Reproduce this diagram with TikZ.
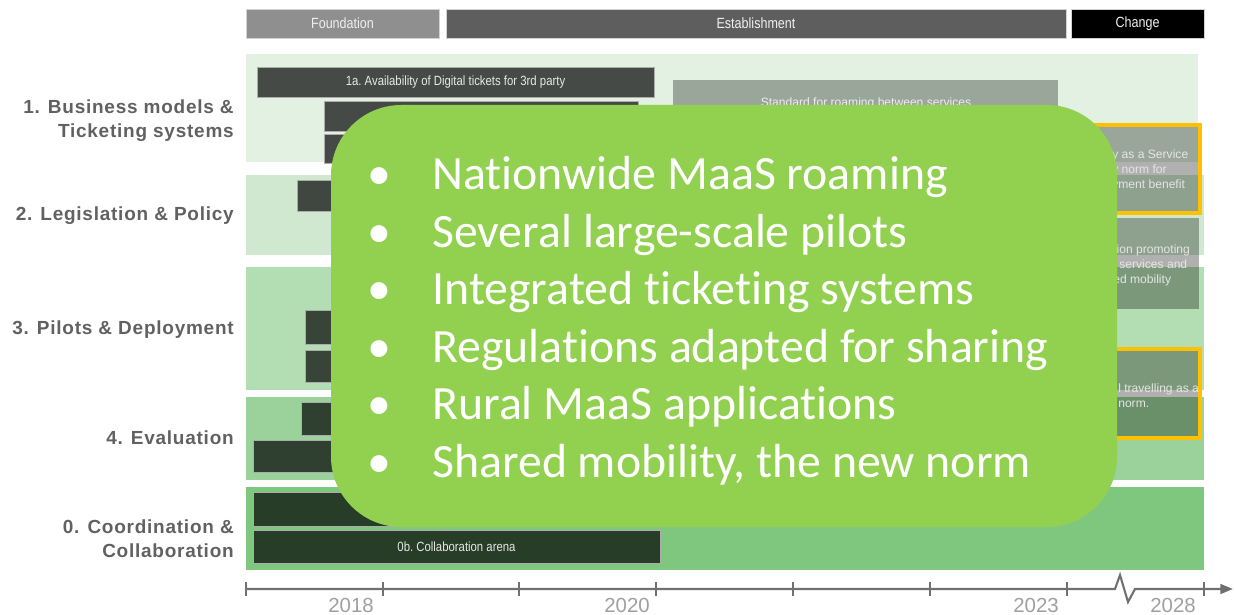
\documentclass[tikz,border=0pt]{standalone}
\usepackage{fontspec}
\setmainfont{Liberation Sans}
\newfontfamily\slidefont[Ligatures=NoCommon]{Carlito}
\newfontfamily\narrowfont[FakeStretch=0.85]{Liberation Sans}
\newfontfamily\labelfont[LetterSpace=4]{Liberation Sans}
\usepackage{tikz}
\usetikzlibrary{fit,arrows.meta}

\definecolor{bandone}{RGB}{226,241,226}
\definecolor{bandtwo}{RGB}{207,232,207}
\definecolor{bandthree}{RGB}{179,221,179}
\definecolor{bandfour}{RGB}{155,209,155}
\definecolor{bandzero}{RGB}{127,199,127}
\definecolor{slidegreen}{RGB}{146,208,80}
\definecolor{changeorange}{RGB}{255,192,0}
\definecolor{axisgray}{RGB}{112,112,112}

\tikzset{
  phase/.style={fill=#1, draw=gray!35, inner sep=0pt},
  phasetext/.style={text=gray!12, inner sep=0pt,
    font=\narrowfont\fontsize{10.5}{12}\selectfont},
  task/.style={fill=black, fill opacity=0.69, draw=gray!65,
    line width=0.5pt, inner sep=0pt},
  tasktext/.style={text=gray!18, inner sep=0pt,
    font=\narrowfont\fontsize{9.5}{11}\selectfont},
  target/.style={fill=black, fill opacity=0.31, draw=none, inner sep=0pt},
  boxtext/.style={anchor=north west, align=left, text=gray!20, inner sep=0pt,
    font=\fontsize{8.6}{10.8}\selectfont},
  rowlabel/.style={anchor=east, align=right, text=black!62, inner sep=0pt,
    font=\labelfont\bfseries\fontsize{13.5}{17}\selectfont},
  year/.style={anchor=east, text=gray!75, inner sep=0pt,
    font=\fontsize{14.5}{16}\selectfont},
  axis/.style={axisgray, line width=1.5pt},
  bullet/.style={anchor=base, text=white, inner sep=0pt,
    font=\slidefont\fontsize{34}{40}\selectfont},
  point/.style={anchor=base west, text=white, inner sep=0pt,
    font=\slidefont\fontsize{34}{40}\selectfont}
}

\begin{document}
\begin{tikzpicture}[x=0.025cm,y=-0.025cm]
\useasboundingbox (0,0) rectangle (1234,615);

% phases
\node[phase=black!44, fit={(246,9) (439,38)}] (foundation) {};
\node[phase=black!63, fit={(446,9) (1066,38)}] (establishment) {};
\node[phase=black, fit={(1071,9) (1204,38)}] (change) {};
\node[phasetext] at (foundation) {Foundation};
\node[phasetext] at (establishment) {Establishment};
\node[phasetext] at (change) {Change};

% rows
\fill[bandone] (246,54) rectangle (1198,162);
\fill[bandtwo] (246,175) rectangle (1204,255);
\fill[bandthree] (246,267) rectangle (1204,390);
\fill[bandfour] (246,397) rectangle (1204,480);
\fill[bandzero] (246,487) rectangle (1204,570);

\node[rowlabel] (lab1) at (234,121) {1. Business models \&\\Ticketing systems};
\node[rowlabel] (lab2) at (234,216) {2. Legislation \& Policy};
\node[rowlabel] (lab3) at (234,330) {3. Pilots \& Deployment};
\node[rowlabel] (lab4) at (234,438) {4. Evaluation};
\node[rowlabel] (lab0) at (234,539) {0. Coordination \&\\Collaboration};

% tasks
\node[task, fit={(257,67) (654,97)}] (task1a) {};
\node[task, fit={(324,101) (638,131)}] (task1b) {};
\node[task, fit={(324,134) (638,163)}] (task1c) {};
\node[task, fit={(297,180) (620,211)}] (task2a) {};
\node[task, fit={(305,310) (640,344)}] (task3a) {};
\node[task, fit={(305,350) (640,382)}] (task3b) {};
\node[task, fit={(301,402) (620,435)}] (task4a) {};
\node[task, fit={(253,440) (640,472)}] (task4b) {};
\node[task, fit={(253,492) (660,526)}] (task0a) {};
\node[task, fit={(253,530) (660,563)}] (task0b) {};
\node[tasktext] at (task1a) {1a.\ Availability of Digital tickets for 3rd party};
\node[tasktext] at (task0b) {0b.\ Collaboration arena};

% targets
\node[target, fit={(673,80) (1058,160)}] (roaming) {};
\node[text=gray!15, font=\fontsize{8.6}{10}\selectfont] (roamingtext) at (866,103) {Standard for roaming between services};
\node[target, draw=changeorange, line width=2.2pt, fit={(1040,125) (1200,213)}] (benefit) {};
\node[boxtext] (benefittext) at (1112,149) {y as a Service\\v norm for\\yment benefit};
\node[target, fit={(1040,218) (1199,309)}] (legislation) {};
\node[boxtext] (legislationtext) at (1113,244) {tion promoting\\l services and\\ed mobility};
\node[target, draw=changeorange, line width=2.2pt, fit={(1040,349) (1200,438)}] (sharing) {};
\node[boxtext] (sharingtext) at (1118,383) {l travelling as a\\norm.};

% summary
\node[fill=slidegreen, rounded corners=50pt, inner sep=0pt, fit={(331,105) (1117,527)}] (summary) {};
\foreach \point [count=\i] in {Nationwide MaaS roaming, Several large-scale pilots,
  Integrated ticketing systems, Regulations adapted for sharing,
  Rural MaaS applications, {Shared mobility, the new norm}}
{
  \node[bullet] (dot\i) at (379,{190+57.4*(\i-1)}) {\textbullet};
  \node[point] (point\i) at (432,{190+57.4*(\i-1)}) {\point};
}

% time axis
\coordinate (axstart) at (246,589);
\coordinate (breakin) at (1115,589);
\coordinate (breakout) at (1135,589);
\coordinate (axend) at (1233,589);
\draw[axis, -{Triangle[length=9pt,width=7pt]}] (axstart) -- (breakin) -- (1120,575) -- (1128,602) -- (breakout) -- (axend);
\foreach \x in {246,383,519,656,793,930,1067,1204}
  \draw[axis] (\x,582) -- (\x,596);

\node[year] (y2018) at (374,605) {2018};
\node[year] (y2020) at (650,605) {2020};
\node[year] (y2023) at (1059,605) {2023};
\node[year] (y2028) at (1196,605) {2028};
\end{tikzpicture}
\end{document}
